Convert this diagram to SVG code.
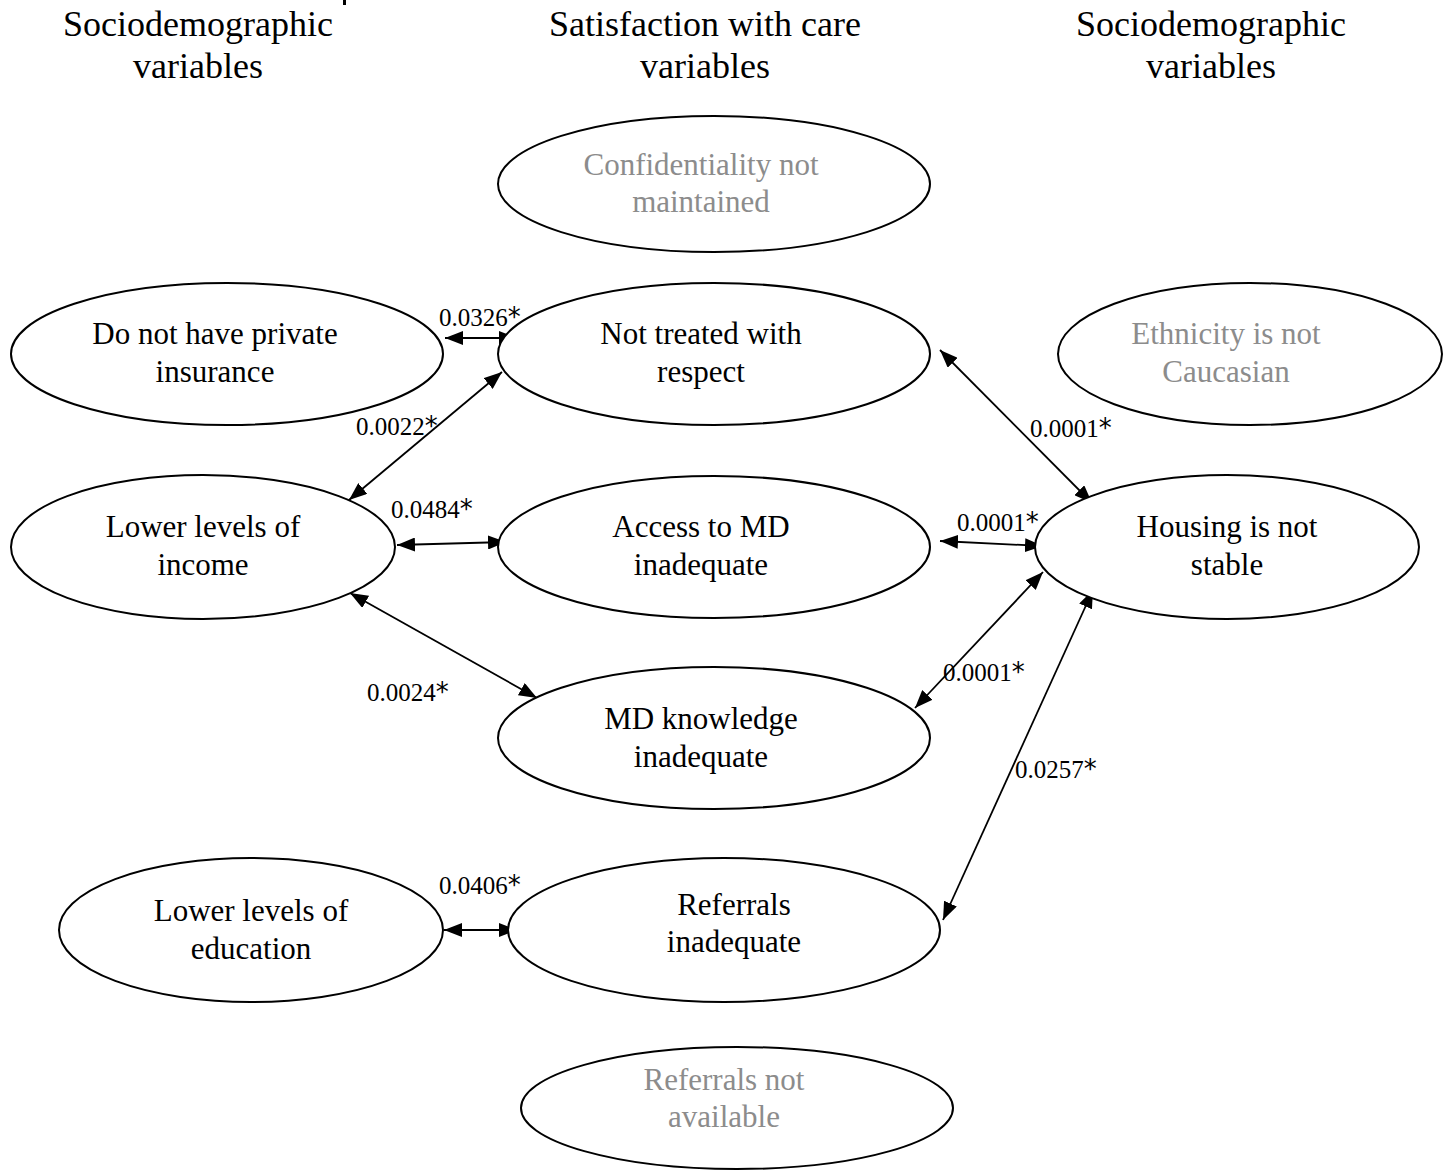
<svg xmlns="http://www.w3.org/2000/svg" width="1450" height="1171" viewBox="0 0 1450 1171">
<style>
.title{font-family:"Liberation Serif","Times New Roman",serif;font-size:36px;fill:#000;text-anchor:middle}
.nt{font-family:"Liberation Serif","Times New Roman",serif;font-size:31px;fill:#000;text-anchor:middle}
.gray{fill:#8c8c8c}
.node{fill:#fff;stroke:#000;stroke-width:2}
.lbl{font-family:"Liberation Serif","Times New Roman",serif;font-size:25px;fill:#000}
.ast{font-family:"DejaVu Sans",sans-serif;font-size:26px}
.edge{stroke:#000;stroke-width:1.8;fill:none;marker-start:url(#ah);marker-end:url(#ah)}
</style>
<defs>
<marker id="ah" viewBox="0 0 18 14" refX="18" refY="7" markerWidth="18" markerHeight="14" markerUnits="userSpaceOnUse" orient="auto-start-reverse">
<path d="M0,0 L18,7 L0,14 z" fill="#000"/>
</marker>
</defs>
<rect width="1450" height="1171" fill="#fff"/>
<rect x="343" y="0" width="3" height="5" fill="#000"/>
<g id="titles">
<text class="title" x="198" y="36">Sociodemographic</text>
<text class="title" x="198" y="78">variables</text>
<text class="title" x="705" y="36">Satisfaction with care</text>
<text class="title" x="705" y="78">variables</text>
<text class="title" x="1211" y="36">Sociodemographic</text>
<text class="title" x="1211" y="78">variables</text>
</g>
<g id="edges">
<line class="edge" x1="445" y1="338" x2="517" y2="338"/>
<line class="edge" x1="502" y1="372" x2="349" y2="500"/>
<line class="edge" x1="397" y1="545" x2="506" y2="542"/>
<line class="edge" x1="350" y1="593" x2="537" y2="698"/>
<line class="edge" x1="940" y1="350" x2="1092" y2="503"/>
<line class="edge" x1="940" y1="541" x2="1043" y2="546"/>
<line class="edge" x1="1043" y1="572" x2="915" y2="708"/>
<line class="edge" x1="1093" y1="590" x2="943" y2="920"/>
<line class="edge" x1="444" y1="930" x2="517" y2="930"/>
</g>
<g id="labels">
<text class="lbl" x="439" y="326">0.0326<tspan class="ast">*</tspan></text>
<text class="lbl" x="356" y="435">0.0022<tspan class="ast">*</tspan></text>
<text class="lbl" x="391" y="518">0.0484<tspan class="ast">*</tspan></text>
<text class="lbl" x="367" y="701">0.0024<tspan class="ast">*</tspan></text>
<text class="lbl" x="1030" y="437">0.0001<tspan class="ast">*</tspan></text>
<text class="lbl" x="957" y="531">0.0001<tspan class="ast">*</tspan></text>
<text class="lbl" x="943" y="681">0.0001<tspan class="ast">*</tspan></text>
<text class="lbl" x="1015" y="778">0.0257<tspan class="ast">*</tspan></text>
<text class="lbl" x="439" y="894">0.0406<tspan class="ast">*</tspan></text>
</g>
<g id="n-confidentiality">
<ellipse class="node" cx="714" cy="184" rx="216" ry="68"/>
<text class="nt gray" x="701" y="175">Confidentiality not</text>
<text class="nt gray" x="701" y="212">maintained</text>
</g>
<g id="n-insurance">
<ellipse class="node" cx="227" cy="354" rx="216" ry="71"/>
<text class="nt" x="215" y="344">Do not have private</text>
<text class="nt" x="215" y="382">insurance</text>
</g>
<g id="n-respect">
<ellipse class="node" cx="714" cy="354" rx="216" ry="71"/>
<text class="nt" x="701" y="344">Not treated with</text>
<text class="nt" x="701" y="382">respect</text>
</g>
<g id="n-ethnicity">
<ellipse class="node" cx="1250" cy="354" rx="192" ry="71"/>
<text class="nt gray" x="1226" y="344">Ethnicity is not</text>
<text class="nt gray" x="1226" y="382">Caucasian</text>
</g>
<g id="n-income">
<ellipse class="node" cx="203" cy="547" rx="192" ry="72"/>
<text class="nt" x="203" y="537">Lower levels of</text>
<text class="nt" x="203" y="575">income</text>
</g>
<g id="n-access">
<ellipse class="node" cx="714" cy="547" rx="216" ry="71"/>
<text class="nt" x="701" y="537">Access to MD</text>
<text class="nt" x="701" y="575">inadequate</text>
</g>
<g id="n-housing">
<ellipse class="node" cx="1227" cy="547" rx="192" ry="72"/>
<text class="nt" x="1227" y="537">Housing is not</text>
<text class="nt" x="1227" y="575">stable</text>
</g>
<g id="n-knowledge">
<ellipse class="node" cx="714" cy="738" rx="216" ry="71"/>
<text class="nt" x="701" y="729">MD knowledge</text>
<text class="nt" x="701" y="767">inadequate</text>
</g>
<g id="n-education">
<ellipse class="node" cx="251" cy="930" rx="192" ry="72"/>
<text class="nt" x="251" y="921">Lower levels of</text>
<text class="nt" x="251" y="959">education</text>
</g>
<g id="n-referrals">
<ellipse class="node" cx="724" cy="930" rx="216" ry="72"/>
<text class="nt" x="734" y="915">Referrals</text>
<text class="nt" x="734" y="952">inadequate</text>
</g>
<g id="n-refnotavail">
<ellipse class="node" cx="737" cy="1108" rx="216" ry="61"/>
<text class="nt gray" x="724" y="1090">Referrals not</text>
<text class="nt gray" x="724" y="1127">available</text>
</g>
</svg>
